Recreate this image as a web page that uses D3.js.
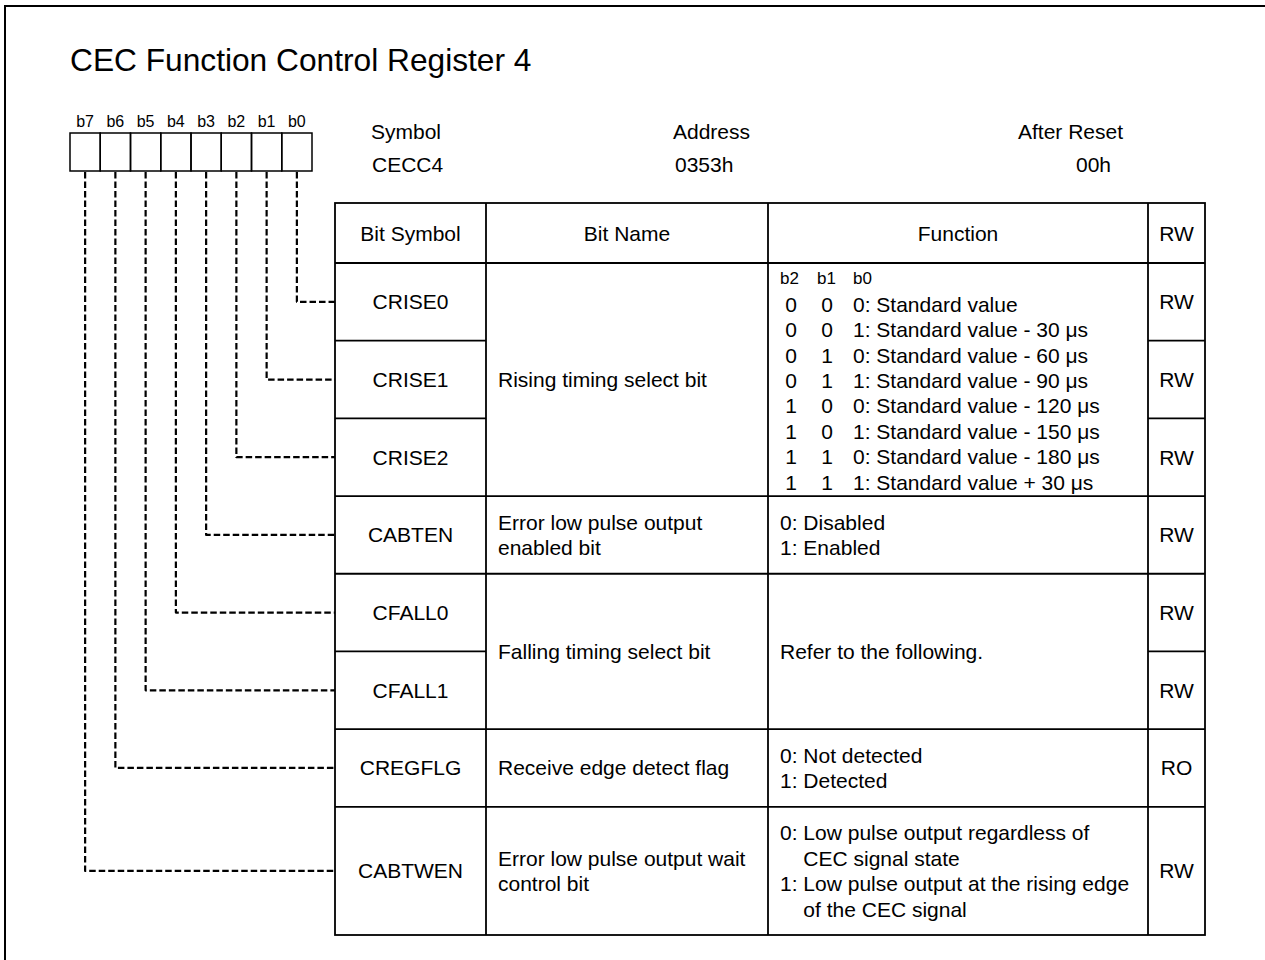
<!DOCTYPE html>
<html>
<head>
<meta charset="utf-8">
<script src="https://cdn.jsdelivr.net/npm/d3@7"></script>
<style>
  html, body { margin: 0; padding: 0; background: #fff; }
  svg { display: block; }
  text { font-family: "Liberation Sans", Arial, Helvetica, sans-serif; fill: #000; }
</style>
</head>
<body>
<svg id="chart" width="1265" height="960"></svg>
<script>
// ---------------- DATA ----------------
const title = "CEC Function Control Register 4";
const bitLabels = ["b7", "b6", "b5", "b4", "b3", "b2", "b1", "b0"];
const infoHeaders = ["Symbol", "Address", "After Reset"];
const infoValues = ["CECC4", "0353h", "00h"];
const columnHeaders = ["Bit Symbol", "Bit Name", "Function", "RW"];
const bitSymbols = ["CRISE0", "CRISE1", "CRISE2", "CABTEN", "CFALL0", "CFALL1", "CREGFLG", "CABTWEN"];
const bitNumbers = [0, 1, 2, 3, 4, 5, 6, 7];
const accessModes = ["RW", "RW", "RW", "RW", "RW", "RW", "RO", "RW"];
const bitNames = [
  { first: 0, last: 2, lines: ["Rising timing select bit"] },
  { first: 3, last: 3, lines: ["Error low pulse output", "enabled bit"] },
  { first: 4, last: 5, lines: ["Falling timing select bit"] },
  { first: 6, last: 6, lines: ["Receive edge detect flag"] },
  { first: 7, last: 7, lines: ["Error low pulse output wait", "control bit"] }
];
const riseHeader = ["b2", "b1", "b0"];
const riseSettings = [
  ["0", "0", "0: Standard value"],
  ["0", "0", "1: Standard value - 30 μs"],
  ["0", "1", "0: Standard value - 60 μs"],
  ["0", "1", "1: Standard value - 90 μs"],
  ["1", "0", "0: Standard value - 120 μs"],
  ["1", "0", "1: Standard value - 150 μs"],
  ["1", "1", "0: Standard value - 180 μs"],
  ["1", "1", "1: Standard value + 30 μs"]
];
// [text, isContinuationLine]
const functions = [
  { first: 3, last: 3, lines: [["0: Disabled", false], ["1: Enabled", false]] },
  { first: 4, last: 5, lines: [["Refer to the following.", false]] },
  { first: 6, last: 6, lines: [["0: Not detected", false], ["1: Detected", false]] },
  { first: 7, last: 7, lines: [["0: Low pulse output regardless of", false], ["CEC signal state", true], ["1: Low pulse output at the rising edge", false], ["of the CEC signal", true]] }
];

// ---------------- LAYOUT ----------------
const svg = d3.select("#chart");
const W = 1265, H = 960;
const fontMain = 21, fontBits = 16, lineH = 25.4;
const rowUnits = [1, 1, 1, 1, 1, 1, 1, 1.65];
const cum = [0];
rowUnits.forEach(u => cum.push(cum[cum.length - 1] + u));

const tableTop = 203, headerBottom = 263, tableBottom = 935;
const colEdges = [335, 486, 768, 1148, 1205];
const y = d3.scaleLinear().domain([0, cum[cum.length - 1]]).range([headerBottom, tableBottom]);
const rowTop = i => y(cum[i]);
const rowBot = i => y(cum[i + 1]);
const rowMid = i => (rowTop(i) + rowBot(i)) / 2;

const boxX = d3.scaleBand().domain(bitLabels).range([70, 312]);
const boxTop = 133, boxBottom = 171;

// outer frame
svg.append("rect").attr("x", 5).attr("y", 6).attr("width", W + 20).attr("height", H + 20)
  .attr("fill", "none").attr("stroke", "#000").attr("stroke-width", 2);

// title
svg.append("text").attr("x", 70).attr("y", 60).attr("dominant-baseline", "central")
  .style("font-size", "31.7px").text(title);

// bit labels and boxes
svg.selectAll(".blabel").data(bitLabels).enter().append("text")
  .attr("x", d => boxX(d) + boxX.bandwidth() / 2).attr("y", 121)
  .attr("text-anchor", "middle").attr("dominant-baseline", "central")
  .style("font-size", fontBits + "px").text(d => d);
svg.selectAll(".bbox").data(bitLabels).enter().append("rect")
  .attr("x", d => boxX(d)).attr("y", boxTop)
  .attr("width", boxX.bandwidth()).attr("height", boxBottom - boxTop)
  .attr("fill", "none").attr("stroke", "#000").attr("stroke-width", 1.5);

// info header
const infoX = [371, 673, 1018];
const infoValX = [372, 675, 1076];
svg.selectAll(".ih").data(infoHeaders).enter().append("text")
  .attr("x", (d, i) => infoX[i]).attr("y", 131).attr("dominant-baseline", "central")
  .style("font-size", fontMain + "px").text(d => d);
svg.selectAll(".iv").data(infoValues).enter().append("text")
  .attr("x", (d, i) => infoValX[i]).attr("y", 164).attr("dominant-baseline", "central")
  .style("font-size", fontMain + "px").text(d => d);

// dashed connectors
const bitToLabel = b => bitLabels[7 - b];
svg.selectAll(".conn").data(bitSymbols).enter().append("path")
  .attr("d", (d, i) => {
    const x = boxX(bitToLabel(bitNumbers[i])) + boxX.bandwidth() / 2;
    const ym = rowMid(i);
    return d3.line()([[x, boxBottom + 1], [x, ym], [colEdges[0], ym]]);
  })
  .attr("fill", "none").attr("stroke", "#000").attr("stroke-width", 2.2)
  .attr("stroke-dasharray", "6.5,3").attr("stroke-linejoin", "round");

// table grid
const g = svg.append("g").attr("stroke", "#000").attr("stroke-width", 1.8).attr("fill", "none");
g.append("rect").attr("x", colEdges[0]).attr("y", tableTop)
  .attr("width", colEdges[4] - colEdges[0]).attr("height", tableBottom - tableTop);
colEdges.slice(1, 4).forEach(x => g.append("line").attr("x1", x).attr("x2", x).attr("y1", tableTop).attr("y2", tableBottom));
g.append("line").attr("x1", colEdges[0]).attr("x2", colEdges[4]).attr("y1", headerBottom).attr("y2", headerBottom);
const groupEnds = new Set(bitNames.map(d => d.last));
for (let i = 0; i < bitSymbols.length - 1; i++) {
  const yy = rowBot(i);
  g.append("line").attr("x1", colEdges[0]).attr("x2", colEdges[1]).attr("y1", yy).attr("y2", yy);
  g.append("line").attr("x1", colEdges[3]).attr("x2", colEdges[4]).attr("y1", yy).attr("y2", yy);
  if (groupEnds.has(i)) {
    g.append("line").attr("x1", colEdges[1]).attr("x2", colEdges[3]).attr("y1", yy).attr("y2", yy);
  }
}

// column headers
svg.selectAll(".ch").data(columnHeaders).enter().append("text")
  .attr("x", (d, i) => (colEdges[i] + colEdges[i + 1]) / 2).attr("y", (tableTop + headerBottom) / 2)
  .attr("text-anchor", "middle").attr("dominant-baseline", "central")
  .style("font-size", fontMain + "px").text(d => d);

// bit symbols & RW
svg.selectAll(".sym").data(bitSymbols).enter().append("text")
  .attr("x", (colEdges[0] + colEdges[1]) / 2).attr("y", (d, i) => rowMid(i))
  .attr("text-anchor", "middle").attr("dominant-baseline", "central")
  .style("font-size", fontMain + "px").text(d => d);
svg.selectAll(".rw").data(accessModes).enter().append("text")
  .attr("x", (colEdges[3] + colEdges[4]) / 2).attr("y", (d, i) => rowMid(i))
  .attr("text-anchor", "middle").attr("dominant-baseline", "central")
  .style("font-size", fontMain + "px").text(d => d);

function blockY(first, last, n, k) {
  const c = (rowTop(first) + rowBot(last)) / 2;
  return c + (k - (n - 1) / 2) * lineH;
}

// bit names
bitNames.forEach(b => {
  b.lines.forEach((ln, k) => {
    svg.append("text").attr("x", 498).attr("y", blockY(b.first, b.last, b.lines.length, k))
      .attr("dominant-baseline", "central").style("font-size", fontMain + "px").text(ln);
  });
});

// rising timing function block
const riseCols = [791, 827];
const nRise = riseSettings.length + 1;
const riseC = (rowTop(0) + rowBot(2)) / 2 + 1;
const riseY = k => riseC + (k - (nRise - 1) / 2) * lineH;
riseHeader.forEach((h, j) => {
  svg.append("text").attr("x", [780, 817, 853][j]).attr("y", riseY(0))
    .attr("dominant-baseline", "central").style("font-size", "17px").text(h);
});
riseSettings.forEach((r, k) => {
  const yy = riseY(k + 1);
  riseCols.forEach((x, j) => svg.append("text").attr("x", x).attr("y", yy)
    .attr("text-anchor", "middle").attr("dominant-baseline", "central")
    .style("font-size", fontMain + "px").text(r[j]));
  svg.append("text").attr("x", 853).attr("y", yy)
    .attr("dominant-baseline", "central").style("font-size", fontMain + "px").text(r[2]);
});

// indent width of "0: "
function textW(s) {
  const p = svg.append("text").style("font-size", fontMain + "px").text(s);
  const w = p.node().getComputedTextLength();
  p.remove();
  return w;
}
const indent = textW("0: a") - textW("a");

functions.forEach(f => {
  f.lines.forEach((ln, k) => {
    svg.append("text").attr("x", ln[1] ? 780 + indent : 780)
      .attr("y", blockY(f.first, f.last, f.lines.length, k))
      .attr("dominant-baseline", "central").style("font-size", fontMain + "px").text(ln[0]);
  });
});
</script>
</body>
</html>
